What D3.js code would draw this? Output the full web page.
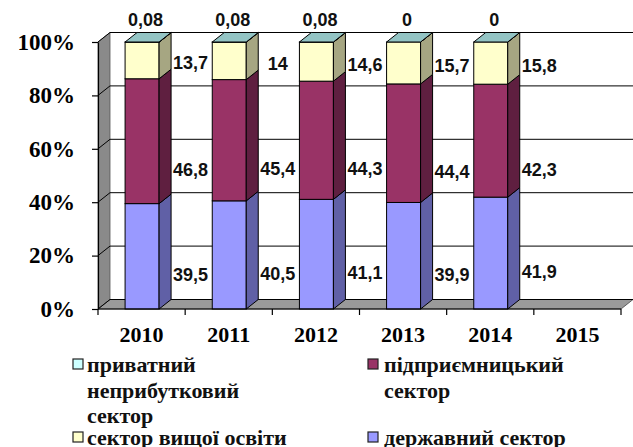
<!DOCTYPE html>
<html>
<head>
<meta charset="utf-8">
<script src="https://cdn.jsdelivr.net/npm/d3@7"></script>
<style>
  html, body { margin: 0; padding: 0; background: #fff; }
  svg { display: block; }
  .serif { font-family: "Liberation Serif", "Times New Roman", Tinos, "DejaVu Serif", serif; font-weight: bold; }
  .sans { font-family: "Liberation Sans", Arial, Arimo, "DejaVu Sans", sans-serif; font-weight: bold; }
</style>
</head>
<body>
<svg id="chart" width="633" height="447"></svg>
<script>
// ---- data ----
const categories = ["2010", "2011", "2012", "2013", "2014", "2015"];
const privateNonprofit = [0.08, 0.08, 0.08, 0, 0, null];
const higherEducation = [13.7, 14, 14.6, 15.7, 15.8, null];
const business = [46.8, 45.4, 44.3, 44.4, 42.3, null];
const government = [39.5, 40.5, 41.1, 39.9, 41.9, null];
const yTickValues = [0, 20, 40, 60, 80, 100];
const seriesNames = ["державний сектор", "підприємницький сектор", "сектор вищої освіти", "приватний неприбутковий сектор"];

(function () {
// ---- styling ----
const seriesKeys = ["gov", "bus", "edu", "priv"];
const frontColors = { gov: "#9999ff", bus: "#993366", edu: "#ffffcc", priv: "#ccffff" };
const sideColors = { gov: "#6060a6", bus: "#5f1f40", edu: "#a6a682", priv: "#8fbfbf" };
const topColor = "#93c4c4";
const labelNudge = { gov: 19, bus: 29, edu: 3 };

const svg = d3.select("#chart");
const W = 633;
const pL = 98, pR = 621, pB = 309, pT = 42;
const dx = 12, dy = -9.5;

const rows = categories.map((c, i) => ({
  cat: c,
  gov: government[i], bus: business[i], edu: higherEducation[i], priv: privateNonprofit[i],
  has: government[i] != null
}));
const dataRows = rows.filter(r => r.has);

const x = d3.scaleBand().domain(categories).range([pL, pR]).padding(0);
const y = d3.scaleLinear().domain([0, 1]).range([pB, pT]);
const yPct = d3.scaleLinear().domain([0, 100]).range([pB, pT]);

const stack = d3.stack().keys(seriesKeys).offset(d3.stackOffsetExpand);
const stacked = stack(dataRows);

// ---- walls ----
const g = svg.append("g");
g.append("rect").attr("x", pL + dx).attr("y", yPct(100) + dy)
  .attr("width", W - pL - dx).attr("height", yPct(0) - yPct(100)).attr("fill", "#fff");
g.append("polygon")
  .attr("points", [[pL, yPct(100)], [pL + dx, yPct(100) + dy], [pL + dx, yPct(0) + dy], [pL, yPct(0)]].join(" "))
  .attr("fill", "#8a8a8a").attr("stroke", "#555").attr("stroke-width", 0.8);
g.append("polygon")
  .attr("points", [[pL, yPct(0)], [pL + dx, yPct(0) + dy], [pR + dx, yPct(0) + dy], [pR, yPct(0)]].join(" "))
  .attr("fill", "#9a9a9a").attr("stroke", "#444").attr("stroke-width", 0.8);

yTickValues.forEach(v => {
  g.append("line").attr("x1", pL + dx).attr("x2", W)
    .attr("y1", yPct(v) + dy).attr("y2", yPct(v) + dy)
    .attr("stroke", "#000").attr("stroke-width", 1);
  g.append("line").attr("x1", pL).attr("x2", pL + dx)
    .attr("y1", yPct(v)).attr("y2", yPct(v) + dy)
    .attr("stroke", "#000").attr("stroke-width", 1);
});

// ---- bars ----
const bw = x.bandwidth() * 0.39;
const barsG = svg.append("g");
dataRows.forEach((r, i) => {
  const cx = x(r.cat) + x.bandwidth() / 2 + 0.5;
  const x0 = cx - bw / 2, x1 = cx + bw / 2;
  stacked.forEach(s => {
    const d = s[i];
    const yb = y(d[0]), yt = y(d[1]);
    barsG.append("rect").attr("x", x0).attr("y", yt).attr("width", bw).attr("height", Math.max(0, yb - yt))
      .attr("fill", frontColors[s.key]).attr("stroke", "#000").attr("stroke-width", 1);
    barsG.append("polygon")
      .attr("points", [[x1, yb], [x1 + dx, yb + dy], [x1 + dx, yt + dy], [x1, yt]].join(" "))
      .attr("fill", sideColors[s.key]).attr("stroke", "#000").attr("stroke-width", 1);
  });
  const yTop = y(1);
  barsG.append("polygon")
    .attr("points", [[x0, yTop], [x0 + dx, yTop + dy], [x1 + dx, yTop + dy], [x1, yTop]].join(" "))
    .attr("fill", topColor).attr("stroke", "#000").attr("stroke-width", 1);
});

// ---- axes ----
const yAxis = d3.axisLeft(yPct).tickValues(yTickValues).tickSize(6).tickSizeOuter(0).tickPadding(17)
  .tickFormat(d => d + "%");
const yAx = svg.append("g").attr("transform", `translate(${pL},0)`).call(yAxis)
  .attr("font-family", null).attr("font-size", null);
yAx.select(".domain").attr("stroke", "#000").attr("stroke-width", 1.2);
yAx.selectAll(".tick line").attr("stroke", "#000").attr("stroke-width", 1.2);
yAx.selectAll(".tick text").attr("class", "serif")
  .style("font-size", "23px").attr("fill", "#000");

svg.append("line").attr("x1", pL).attr("x2", pR).attr("y1", pB).attr("y2", pB)
  .attr("stroke", "#000").attr("stroke-width", 1.2);
const bounds = categories.map(c => x(c)).concat([pR]);
svg.selectAll(".xt").data(bounds).enter().append("line")
  .attr("x1", d => d).attr("x2", d => d).attr("y1", pB).attr("y2", pB + 6)
  .attr("stroke", "#000").attr("stroke-width", 1.2);
svg.selectAll(".xl").data(categories).enter().append("text")
  .attr("class", "serif")
  .attr("x", d => x(d) + x.bandwidth() / 2).attr("y", 342)
  .attr("text-anchor", "middle")
  .style("font-size", "22px").attr("fill", "#000")
  .text(d => d);

// ---- value labels ----
const fmt = v => String(v).replace(".", ",");
const labelsG = svg.append("g").attr("class", "sans")
  .style("font-size", "18px").attr("fill", "#111");
dataRows.forEach((r, i) => {
  const cx = x(r.cat) + x.bandwidth() / 2;
  stacked.forEach(s => {
    const d = s[i];
    if (s.key === "priv") {
      labelsG.append("text").attr("x", cx + 4).attr("y", y(1) - 22)
        .attr("text-anchor", "middle").attr("dominant-baseline", "central")
        .text(fmt(r[s.key]));
    } else {
      const mid = y((d[0] + d[1]) / 2) + labelNudge[s.key];
      labelsG.append("text").attr("x", cx + 49).attr("y", mid)
        .attr("text-anchor", "middle").attr("dominant-baseline", "central")
        .text(fmt(r[s.key]));
    }
  });
});

// ---- legend ----
const legendItems = [
  { key: "priv", lines: ["приватний", "неприбутковий", "сектор"], mx: 73, tx: 87, base: 372 },
  { key: "edu", lines: ["сектор вищої освіти"], mx: 73, tx: 87, base: 445 },
  { key: "bus", lines: ["підприємницький", "сектор"], mx: 368, tx: 384, base: 372 },
  { key: "gov", lines: ["державний сектор"], mx: 368, tx: 384, base: 445 }
];
const lg = svg.append("g");
legendItems.forEach(it => {
  lg.append("rect").attr("x", it.mx).attr("y", it.base - 13).attr("width", 10).attr("height", 10)
    .attr("fill", frontColors[it.key]).attr("stroke", "#222").attr("stroke-width", 1.2);
  const t = lg.append("text").attr("class", "serif").attr("x", it.tx).attr("y", it.base)
    .style("font-size", "22px").attr("fill", "#111");
  it.lines.forEach((ln, j) => {
    t.append("tspan").attr("x", it.tx).attr("y", it.base + j * 25.5).text(ln);
  });
});
})();
</script>
</body>
</html>
